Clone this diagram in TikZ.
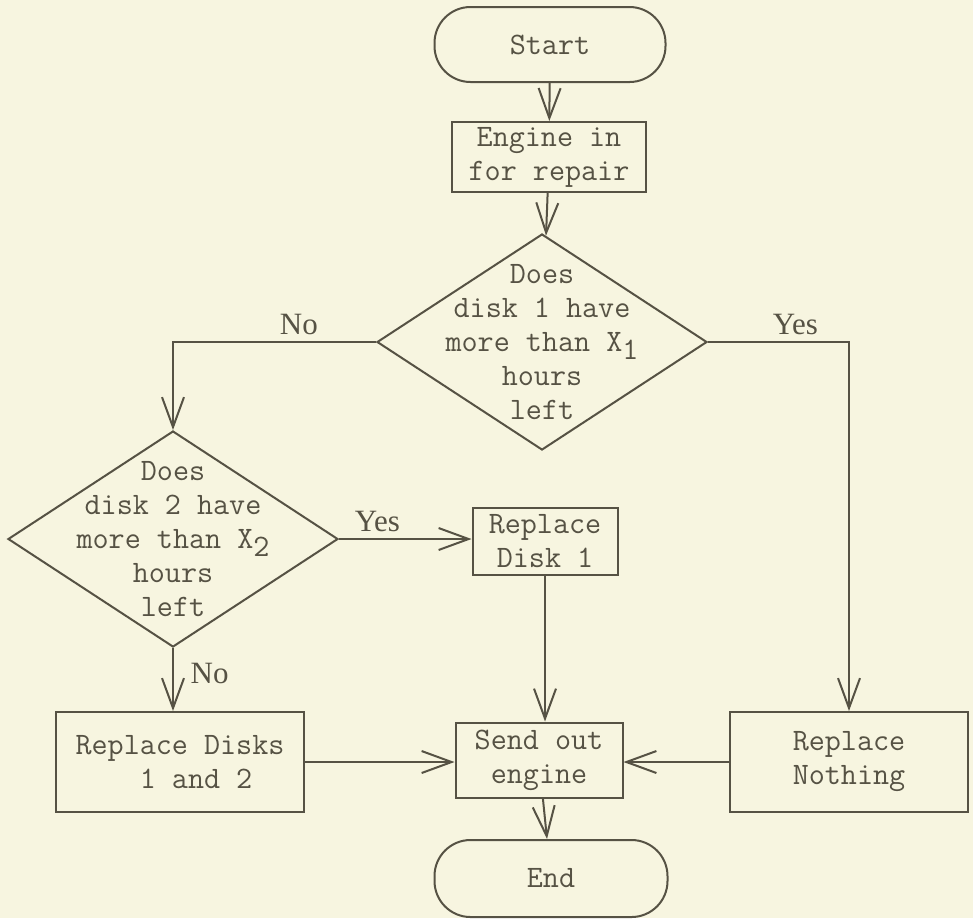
\documentclass[tikz,border=0pt]{standalone}
\usepackage{fontspec}
\setmainfont{Liberation Serif}
\usetikzlibrary{shapes.geometric, arrows.meta}

\definecolor{paper}{RGB}{247,245,224}
\definecolor{ink}{RGB}{86,82,68}
\newcommand{\lowsub}[1]{\raisebox{-0.6ex}{#1}}

\begin{document}
\begin{tikzpicture}[x=0.5pt, y=-0.5pt,
      txt/.style={align=center, text=ink, font=\ttfamily\fontsize{15.6}{17}\selectfont},
      box/.style={txt, draw=ink, line width=1pt, inner sep=0pt},
      term/.style={box, rounded corners=18pt},
      decision/.style={diamond, draw=ink, line width=1pt, inner sep=0pt, minimum width=165pt, minimum height=108pt},
      arr/.style={-{Straight Barb[length=15pt, width=11pt]}, line width=1pt, draw=ink},
      lbl/.style={text=ink, font=\fontsize{15.5}{17}\selectfont}
    ]
      \useasboundingbox (0,0) rectangle (973,918);
      \fill[paper] (0,0) rectangle (973,918);

      \node[term, minimum width=115.5pt, minimum height=37.5pt] (start)  at (550,44.5) {Start};
      \node[box, minimum width=97pt, minimum height=35pt]       (engine) at (549,157)  {Engine in\\for repair};
      \node[decision, label={[txt]center:{Does\\disk 1 have\\more than X\lowsub{1}\\hours\\left}}] (d1) at (542,342) {};
      \node[decision, label={[txt]center:{Does\\disk 2 have\\more than X\lowsub{2}\\hours\\left}}] (d2) at (173,539) {};
      \node[box, minimum width=72.5pt, minimum height=33.5pt]   (rd1)    at (545,541)  {Replace\\Disk 1};
      \node[box, minimum width=124pt, minimum height=50pt]      (rboth)  at (180,762)  {Replace Disks\\\hphantom{00}1 and 2};
      \node[box, minimum width=119pt, minimum height=50pt]      (rnone)  at (849,762)  {Replace\\Nothing};
      \node[box, minimum width=83.5pt, minimum height=37.5pt]   (send)   at (539,760)  {Send out\\engine};
      \node[term, minimum width=116.5pt, minimum height=38.5pt] (end)    at (551,878.5) {End};

      \draw[arr] (start) -- (engine);
      \draw[arr] (engine) -- (d1);
      \draw[arr] (d1.west) -| node[lbl, above, pos=0.19] {No} (d2.north);
      \draw[arr] (d1.east) -| node[lbl, above, pos=0.31] {Yes} (rnone.north);
      \draw[arr] (d2.east) -- node[lbl, above, pos=0.29] {Yes} (d2.east -| rd1.west);
      \draw[arr] (d2.south) -- node[lbl, right, pos=0.4, xshift=5pt] {No} (d2.south |- rboth.north);
      \draw[arr] (rd1.south) -- (rd1.south |- send.north);
      \draw[arr] (rboth.east) -- (rboth.east -| send.west);
      \draw[arr] (rnone.west) -- (rnone.west -| send.east);
      \draw[arr] (send) -- (end);
    \end{tikzpicture}
\end{document}
